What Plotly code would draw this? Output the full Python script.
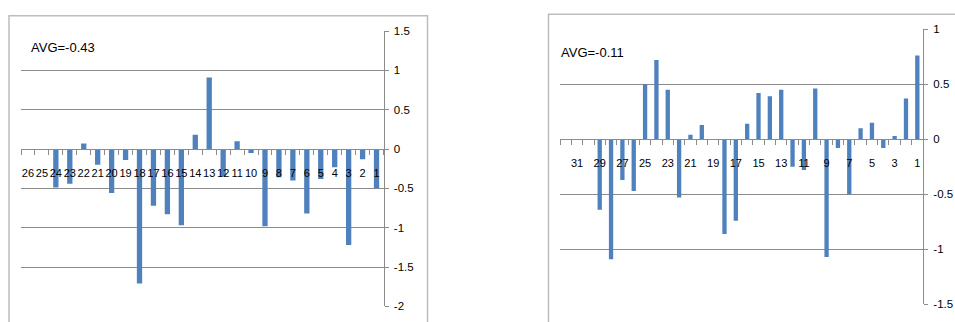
import plotly.graph_objects as go

# ---- data -------------------------------------------------------------
left_cats = [str(i) for i in range(26, 0, -1)]
left_vals = [0, 0, -0.49, -0.44, 0.07, -0.20, -0.56, -0.14, -1.71, -0.72,
             -0.83, -0.97, 0.18, 0.91, -0.35, 0.10, -0.05, -0.98, -0.36, -0.40,
             -0.82, -0.38, -0.23, -1.22, -0.13, -0.50]
left_avg_label = "AVG=-0.43"
left_yticks = [1.5, 1, 0.5, 0, -0.5, -1, -1.5, -2]
left_yticktext = ["1.5", "1", "0.5", "0", "-0.5", "-1", "-1.5", "-2"]

right_cats = [str(i) for i in range(32, 0, -1)]
right_vals = [0, 0, 0, -0.64, -1.09, -0.37, -0.47, 0.50, 0.72, 0.45,
              -0.53, 0.04, 0.13, 0, -0.86, -0.74, 0.14, 0.42, 0.39, 0.45,
              -0.25, -0.28, 0.46, -1.07, -0.08, -0.50, 0.10, 0.15, -0.08, 0.03,
              0.37, 0.76]
right_avg_label = "AVG=-0.11"
right_yticks = [1, 0.5, 0, -0.5, -1, -1.5]
right_yticktext = ["1", "0.5", "0", "-0.5", "-1", "-1.5"]
# every other category label is shown on the second chart
right_xlabels = [c if int(c) % 2 == 1 else "" for c in right_cats]

# ---- styling ----------------------------------------------------------
W, H = 955, 322
BAR = "#4F81BD"
GRID = "#8c8c8c"
BORDER = "#bdbdbd"
FONT = "Liberation Sans, Arial, sans-serif"


def px_x(v):
    return v / W


def px_y(v):
    return (H - v) / H


panels = [
    dict(cats=left_cats, vals=left_vals, labels=left_cats,
         yticks=left_yticks, ytext=left_yticktext,
         xdom=[px_x(21), px_x(383.5)], ydom=[px_y(312), px_y(26)],
         avg=left_avg_label, avg_xy=(28.5, 43), border=(9, 427.5, 10)),
    dict(cats=right_cats, vals=right_vals, labels=right_xlabels,
         yticks=right_yticks, ytext=right_yticktext,
         xdom=[px_x(560), px_x(923)], ydom=[px_y(310), px_y(24)],
         avg=right_avg_label, avg_xy=(558.5, 48.5), border=(548.5, 1000, 8.5)),
]

fig = go.Figure()
shapes, annotations = [], []

for i, p in enumerate(panels, start=1):
    xa = "x" if i == 1 else f"x{i}"
    ya = "y" if i == 1 else f"y{i}"
    fig.add_trace(go.Bar(x=p["cats"], y=p["vals"], xaxis=xa, yaxis=ya,
                         marker=dict(color=BAR, line=dict(width=0)),
                         showlegend=False, hoverinfo="x+y"))

    lo, hi = min(p["yticks"]), max(p["yticks"])
    zero_pos = p["ydom"][0] + (0 - lo) / (hi - lo) * (p["ydom"][1] - p["ydom"][0])

    xkey = "xaxis" if i == 1 else f"xaxis{i}"
    ykey = "yaxis" if i == 1 else f"yaxis{i}"
    fig.update_layout(**{
        xkey: dict(domain=p["xdom"], type="category", anchor="free",
                   position=zero_pos, categoryorder="array",
                   categoryarray=p["cats"], range=[-0.5, len(p["cats"]) - 0.5],
                   tickmode="array", tickvals=p["cats"], ticktext=p["labels"],
                   tickson="boundaries", ticks="outside", ticklen=5,
                   tickcolor=GRID, tickwidth=1, showline=True, linecolor=GRID,
                   linewidth=1, showgrid=False, zeroline=False,
                   tickangle=0, ticklabelstandoff=14,
                   tickfont=dict(family=FONT, size=11, color="#000000"),
                   fixedrange=True),
        ykey: dict(domain=p["ydom"], anchor=xa, side="right", range=[lo, hi],
                   tickmode="array", tickvals=p["yticks"], ticktext=p["ytext"],
                   ticks="outside", ticklen=4, tickcolor=GRID,
                   showgrid=True, gridcolor=GRID, gridwidth=1,
                   showline=True, linecolor=GRID, linewidth=1,
                   zeroline=False, ticklabelstandoff=3,
                   tickfont=dict(family=FONT, size=11.5, color="#000000"),
                   fixedrange=True),
    })

    bx0, bx1, by = p["border"]
    shapes.append(dict(type="rect", xref="paper", yref="paper",
                       x0=px_x(bx0), x1=px_x(bx1), y0=-0.2, y1=px_y(by),
                       line=dict(color=BORDER, width=1.5), layer="below"))
    ax, ay = p["avg_xy"]
    annotations.append(dict(text=p["avg"], xref="paper", yref="paper",
                            x=px_x(ax), y=px_y(ay), xanchor="left",
                            yanchor="middle", showarrow=False,
                            font=dict(family=FONT, size=13, color="#000000")))

fig.update_layout(width=W, height=H, margin=dict(l=0, r=0, t=0, b=0),
                  paper_bgcolor="white", plot_bgcolor="white",
                  bargap=0.62, shapes=shapes, annotations=annotations)

fig.write_html("out.html", config={"displayModeBar": False})
